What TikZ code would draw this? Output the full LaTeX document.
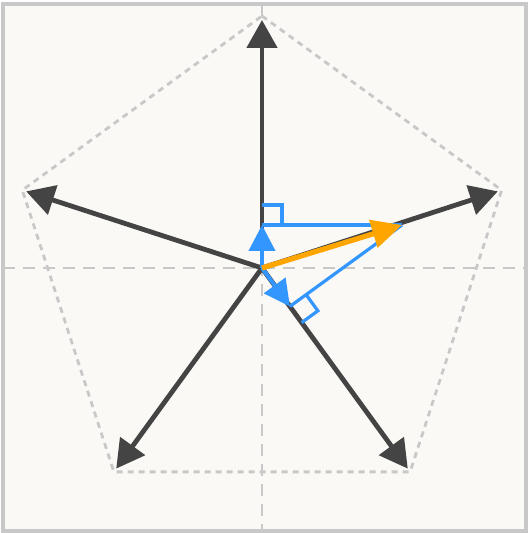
\documentclass[tikz,border=0pt]{standalone}
\usepackage{tikz}
\usetikzlibrary{arrows.meta,calc}
\definecolor{paper}{RGB}{250,249,246}
\definecolor{frameline}{RGB}{200,200,200}
\definecolor{guide}{RGB}{200,200,200}
\definecolor{axisgrey}{RGB}{68,68,68}
\definecolor{projblue}{RGB}{51,150,255}
\definecolor{vecorange}{RGB}{255,165,0}

\begin{document}
\begin{tikzpicture}[
  x=0.5pt, y=0.5pt,
  guideaxis/.style={guide, line width=1.4pt, dash pattern=on 6pt off 4pt},
  pentaline/.style={guide, line width=1.4pt, dash pattern=on 3pt off 2.5pt},
  basisarrow/.style={axisgrey, line width=2.4pt, -{Triangle[length=14pt,width=15pt]}},
  projline/.style={projblue, line width=1.6pt},
  projarrow/.style={projblue, line width=2pt, -{Triangle[length=13pt,width=13pt]}},
  vecarrow/.style={vecorange, line width=2.6pt, -{Triangle[length=15pt,width=14pt]}},
]
  \useasboundingbox (-262,-265) rectangle (266,268);
  \draw[frameline, line width=1.6pt, fill=paper] (-259,-263) rectangle (264,264);

  \coordinate (O) at (0,0);
  \coordinate (west) at (-259,0);
  \coordinate (east) at (264,0);
  \coordinate (north) at (0,264);
  \coordinate (south) at (0,-263);
  \draw[guideaxis] (west) -- (east);
  \draw[guideaxis] (north) -- (south);

  \foreach \i/\a in {1/90, 2/18, 3/-54, 4/-126, 5/162}
    \coordinate (v\i) at (\a:252);
  \draw[pentaline] (v1) -- (v2) -- (v3) -- (v4) -- (v5) -- cycle;

  \foreach \i in {1,...,5}
    \draw[basisarrow, shorten >=2pt] (O) -- (v\i);

  \coordinate (P) at (140,43);
  \coordinate (A) at (0,43);
  \coordinate (B) at (-54:47.5);

  \draw[projline] (A) -- (P);
  \draw[projline] (B) -- (P);
  \draw[projline] ($(A)+(0,20)$) -- ($(A)+(20,20)$) -- ($(A)+(20,0)$);
  \draw[projline] ($(B)+(-54:20)$) -- ($(B)+(-54:20)+(36:20)$) -- ($(B)+(36:20)$);

  \draw[projarrow] (O) -- (A);
  \draw[projarrow] (O) -- (B);
  \draw[vecarrow] (O) -- (P);
\end{tikzpicture}
\end{document}
